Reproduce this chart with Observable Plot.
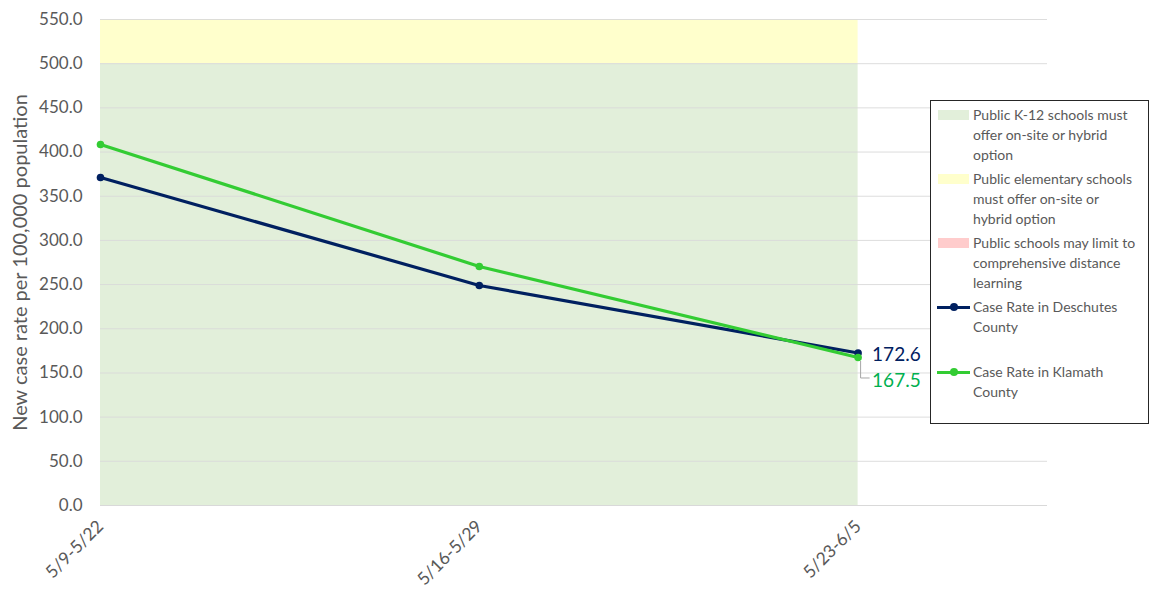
<!DOCTYPE html>
<html><head><meta charset="utf-8">
<script src="https://cdn.jsdelivr.net/npm/d3@7"></script>
<script src="https://cdn.jsdelivr.net/npm/@observablehq/plot@0.6"></script>
<style>
body{margin:0;background:#fff;font-family:Lato,"Liberation Sans",sans-serif}
#wrap{position:relative;width:1153px;height:589px}
.legend{position:absolute;left:930px;top:100px;width:219px;height:324px;border:1px solid #262626;box-sizing:border-box;background:#fff;font-family:Lato,sans-serif;font-size:14px;color:#595959;line-height:20px}
.item{position:absolute;left:42px;width:180px}
.sw{position:absolute;left:-35px;top:5px;width:31px;height:10px}
.ln{position:absolute;left:-36px;top:9px;width:33px;height:3px}
.dt{position:absolute;left:-23px;top:6px;width:8px;height:8px;border-radius:50%}
</style>
</head><body>
<div id="wrap"></div>
<script>
const periods = ["5/9-5/22", "5/16-5/29", "5/23-6/5"];
const deschutes = [371.2, 249.0, 172.6];
const klamath = [408.6, 270.5, 167.5];
const yTicks = [0, 50, 100, 150, 200, 250, 300, 350, 400, 450, 500, 550];
const bandNames = ["Public K-12 schools must offer on-site or hybrid option",
  "Public elementary schools must offer on-site or hybrid option",
  "Public schools may limit to comprehensive distance learning"];
const bandLow = [0, 500, 0];
const bandHigh = [500, 550, 0];
const bandColors = ["#e2efda", "#ffffcc", "#ffcccc"];
const seriesNames = ["Case Rate in Deschutes County", "Case Rate in Klamath County"];
const seriesColors = ["#002060", "#33cc33"];
const labelColors = ["#002060", "#00b050"];
const yTitle = "New case rate per 100,000 population";

const bands = bandNames.map((n, i) => ({name: n, y1: bandLow[i], y2: bandHigh[i], fill: bandColors[i]})).filter(d => d.y2 > d.y1);
const rows = [];
periods.forEach((p, i) => {
  rows.push({i, series: seriesNames[0], v: deschutes[i]});
  rows.push({i, series: seriesNames[1], v: klamath[i]});
});
const last = periods.length - 1;

const leader = (index, scales) => {
  const x = scales.x(last), y = scales.y(klamath[last]);
  const p = d3.create("svg:path")
    .attr("d", `M${x + 3},${y + 4}V${y + 21}H${x + 12}`)
    .attr("fill", "none").attr("stroke", "#a6a6a6").attr("stroke-width", 1);
  return p.node();
};

const chart = Plot.plot({
  width: 1153, height: 589,
  marginLeft: 100, marginRight: 106, marginTop: 19, marginBottom: 84,
  style: {fontFamily: "Lato, sans-serif", color: "#595959", background: "transparent"},
  x: {type: "linear", domain: [0, periods.length - 0.5]},
  y: {domain: [0, 550]},
  marks: [
    Plot.rect(bands, {x1: () => 0, x2: () => last, y1: "y1", y2: "y2", fill: "fill"}),
    Plot.gridY(yTicks, {stroke: "#d9d9d9", strokeOpacity: 0.9, strokeWidth: 1}),
    Plot.ruleY([0], {stroke: "#d9d9d9", strokeWidth: 1}),
    Plot.axisY(yTicks, {tickSize: 0, tickPadding: 18, tickFormat: d3.format(".1f"), fontSize: 17, fill: "#595959", label: null}),
    Plot.axisX([0, 1, 2], {tickSize: 0, tickPadding: 18, tickRotate: -45, tickFormat: i => periods[i], fontSize: 17.5, fill: "#595959", label: null}),
    Plot.text([yTitle], {frameAnchor: "left", textAnchor: "middle", rotate: -90, dx: -80, fontSize: 20, fill: "#595959"}),
    leader,
    Plot.line(rows, {x: "i", y: "v", z: "series", stroke: "series", strokeWidth: 3.2}),
    Plot.dot(rows, {x: "i", y: "v", fill: "series", r: 3.8}),
    Plot.text([deschutes[last]], {x: () => last, y: d => d, text: d => d.toFixed(1), fill: labelColors[0], dx: 14, dy: 2, textAnchor: "start", fontSize: 19}),
    Plot.text([klamath[last]], {x: () => last, y: d => d, text: d => d.toFixed(1), fill: labelColors[1], dx: 14, dy: 23, textAnchor: "start", fontSize: 19})
  ],
  color: {domain: seriesNames, range: seriesColors}
});
document.getElementById("wrap").appendChild(chart);

const legend = document.createElement("div");
legend.className = "legend";
const entries = [
  {type: "band", color: bandColors[0], lines: ["Public K-12 schools must", "offer on-site or hybrid", "option"], top: 4},
  {type: "band", color: bandColors[1], lines: ["Public elementary schools", "must offer on-site or", "hybrid option"], top: 68},
  {type: "band", color: bandColors[2], lines: ["Public schools may limit to", "comprehensive distance", "learning"], top: 132},
  {type: "line", color: seriesColors[0], lines: ["Case Rate in Deschutes", "County"], top: 196},
  {type: "line", color: seriesColors[1], lines: ["Case Rate in Klamath", "County"], top: 261}
];
entries.forEach(e => {
  const it = document.createElement("div");
  it.className = "item";
  it.style.top = e.top + "px";
  if (e.type === "band") {
    const s = document.createElement("div"); s.className = "sw"; s.style.background = e.color; it.appendChild(s);
  } else {
    const l = document.createElement("div"); l.className = "ln"; l.style.background = e.color; it.appendChild(l);
    const d = document.createElement("div"); d.className = "dt"; d.style.background = e.color; it.appendChild(d);
  }
  e.lines.forEach(t => { const ln = document.createElement("div"); ln.textContent = t; it.appendChild(ln); });
  legend.appendChild(it);
});
document.getElementById("wrap").appendChild(legend);
</script>
</body></html>
